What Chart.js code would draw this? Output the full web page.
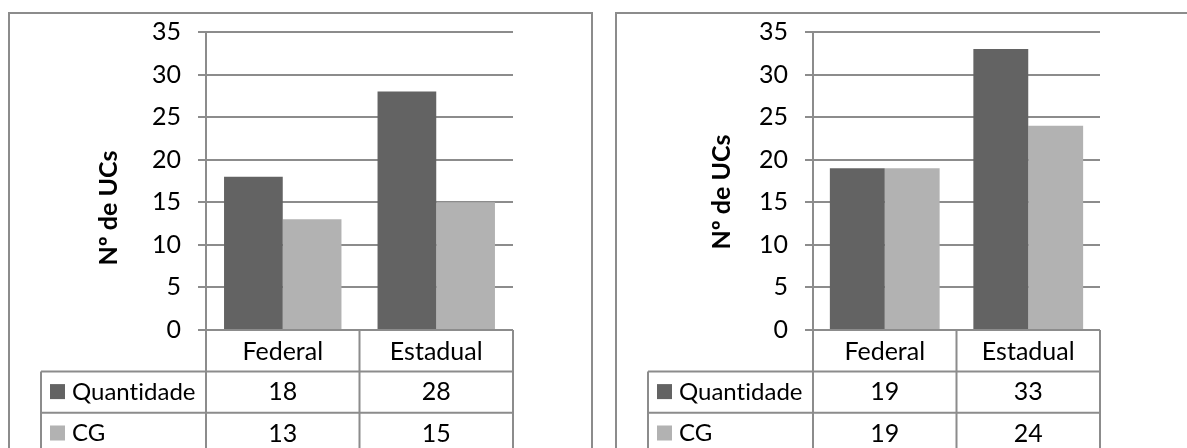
<!DOCTYPE html>
<html>
<head>
<meta charset="utf-8">
<script src="https://cdn.jsdelivr.net/npm/chart.js@4/dist/chart.umd.min.js"></script>
<style>
  html, body { margin: 0; padding: 0; background: #fff; overflow: hidden; }
  body { width: 1187px; height: 448px; position: relative; }
  .frame { position: absolute; border: 2px solid #8c8c8c; box-sizing: border-box; }
  canvas { position: absolute; top: 0; }
</style>
</head>
<body>
<div class="frame" style="left:8px; top:12px; width:585px; height:460px;"></div>
<div class="frame" style="left:615px; top:12px; width:600px; height:460px;"></div>
<canvas id="chartA" width="600" height="448" style="left:0"></canvas>
<canvas id="chartB" width="587" height="448" style="left:600px"></canvas>
<script>
// Categories, series and axis ticks
const categories = ['Federal', 'Estadual'];
const seriesNames = ['Quantidade', 'CG'];
const quantidadeA = [18, 28];
const cgA = [13, 15];
const quantidadeB = [19, 33];
const cgB = [19, 24];
const yMin = 0;
const yMax = 35;
const yStep = 5;
const axisTitle = 'Nº de UCs';

const DARK = '#636363';
const LIGHT = '#b2b2b2';
const LINE = '#8c8c8c';
const FONT = 'Lato, "Open Sans", sans-serif';
const SIZE = 25;

Chart.defaults.font.family = FONT;
Chart.defaults.font.size = SIZE;
Chart.defaults.color = '#000';

// Draws the axis title and the data table under the plot area
const dataTable = {
  id: 'dataTable',
  afterDraw(chart, args, o) {
    const { ctx, chartArea, scales: { x } } = chart;
    const n = chart.data.labels.length;
    const top = chartArea.bottom;
    const rowH = o.rowHeight;
    const rows = chart.data.datasets.length + 1;
    const bottom = top + rowH * rows;
    const right = chartArea.right;
    const edges = [];
    for (let i = 0; i <= n; i++) edges.push(x.getPixelForValue(i - 0.5));

    ctx.save();
    ctx.strokeStyle = LINE;
    ctx.lineWidth = 2;
    ctx.beginPath();
    // column lines
    edges.forEach(px => { ctx.moveTo(px, top); ctx.lineTo(px, bottom); });
    // series-name column left edge
    ctx.moveTo(o.tableLeft, top + rowH); ctx.lineTo(o.tableLeft, bottom);
    // row lines
    for (let r = 1; r <= rows; r++) {
      const y = top + rowH * r;
      ctx.moveTo(o.tableLeft, y); ctx.lineTo(right, y);
    }
    ctx.stroke();

    ctx.fillStyle = '#000';
    ctx.font = SIZE + 'px ' + FONT;
    // a tiny spacing keeps "ti" from being drawn as a ligature
    if ('letterSpacing' in ctx) ctx.letterSpacing = '0.01px';
    ctx.textBaseline = 'middle';
    ctx.textAlign = 'center';
    // category row
    chart.data.labels.forEach((lab, i) => {
      ctx.fillText(lab, (edges[i] + edges[i + 1]) / 2, top + rowH / 2 + 1);
    });
    // series rows
    chart.data.datasets.forEach((ds, r) => {
      const cy = top + rowH * (r + 1) + rowH / 2;
      ctx.fillStyle = ds.backgroundColor;
      ctx.fillRect(o.tableLeft + 9, cy - 8, 15, 15);
      ctx.fillStyle = '#000';
      ctx.textAlign = 'left';
      ctx.font = (SIZE - 1) + 'px ' + FONT;
      ctx.fillText(ds.label, o.tableLeft + 31, cy);
      ctx.font = SIZE + 'px ' + FONT;
      ctx.textAlign = 'center';
      ds.data.forEach((v, i) => {
        ctx.fillText(String(v), (edges[i] + edges[i + 1]) / 2, cy);
      });
    });

    // vertical axis title
    ctx.translate(o.titleX, o.titleY);
    ctx.rotate(-Math.PI / 2);
    ctx.font = 'bold ' + SIZE + 'px ' + FONT;
    ctx.textAlign = 'center';
    ctx.fillText(axisTitle, 0, 0);
    ctx.restore();
  }
};

function makeChart(id, quantidade, cg, g) {
  return new Chart(document.getElementById(id), {
    type: 'bar',
    data: {
      labels: categories,
      datasets: [
        { label: seriesNames[0], data: quantidade, backgroundColor: DARK },
        { label: seriesNames[1], data: cg, backgroundColor: LIGHT }
      ]
    },
    options: {
      responsive: false,
      animation: false,
      devicePixelRatio: 1,
      layout: { padding: { top: g.top, right: g.right, left: 0, bottom: 0 } },
      datasets: { bar: { categoryPercentage: 0.765, barPercentage: 1, borderWidth: 0 } },
      plugins: {
        legend: { display: false },
        tooltip: { enabled: false },
        dataTable: { rowHeight: 41.4, tableLeft: g.tableLeft, titleX: g.titleX, titleY: g.titleY }
      },
      scales: {
        x: {
          ticks: { display: false },
          grid: { display: false },
          border: { display: false },
          afterFit: s => { s.height = 118; }
        },
        y: {
          min: yMin,
          max: yMax,
          ticks: { stepSize: yStep, padding: 17, font: { size: SIZE } },
          grid: { color: LINE, lineWidth: 2, tickLength: 8 },
          border: { color: LINE, width: 2 },
          afterFit: s => { s.width = g.left; }
        }
      }
    },
    plugins: [dataTable]
  });
}

makeChart('chartA', quantidadeA, cgA, { left: 206, right: 87, top: 32, tableLeft: 41, titleX: 109, titleY: 208 });
makeChart('chartB', quantidadeB, cgB, { left: 213, right: 87, top: 29, tableLeft: 48, titleX: 122, titleY: 192 });
</script>
</body>
</html>
